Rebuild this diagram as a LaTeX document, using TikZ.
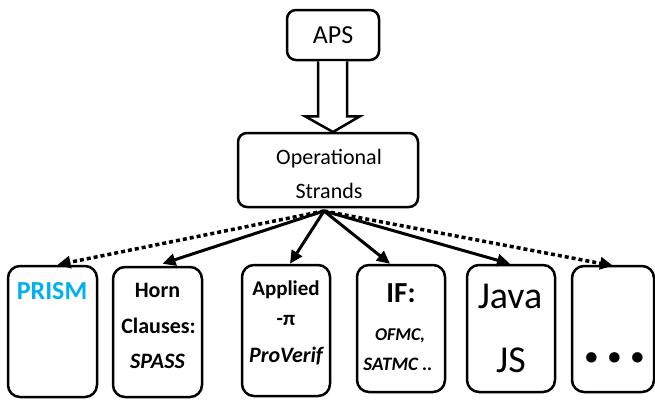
\documentclass[tikz,border=0pt]{standalone}
\usepackage{fontspec}
\setmainfont{Carlito}
\usetikzlibrary{arrows.meta,calc}
\definecolor{prismblue}{HTML}{00B0F0}
\tikzset{
  rbox/.style={draw=black, line width=2.5pt, rounded corners=12pt, inner sep=0pt},
  topbox/.style={draw=black, line width=2.5pt, rounded corners=9pt, inner sep=0pt},
  txt/.style={inner sep=0pt, anchor=base},
  solidarrow/.style={line width=3pt, -{Triangle[length=13pt,width=12pt]}},
  dotarrow/.style={line width=3.5pt, dash pattern=on 4pt off 3pt, -{Triangle[length=13pt,width=12pt]}},
  hollow/.style={draw=black, line width=2.5pt, fill=white, line join=miter}
}
\newcommand{\fs}[1]{\fontsize{#1}{#1}\selectfont}
\begin{document}
\begin{tikzpicture}[x=1pt,y=-1pt]
\useasboundingbox (0,0) rectangle (655,399);
% top boxes
\node[topbox, minimum width=92pt, minimum height=50pt] (aps) at (333,35) {};
\node[txt] (apst) at (333,43) {\fs{26}APS};
\node[topbox, minimum width=180pt, minimum height=74pt] (op) at (328,170) {};
\node[txt] (opt1) at (329,164) {\fs{22}Operational};
\node[txt] (opt2) at (329,198) {\fs{22}Strands};
% hollow arrow
\coordinate (s1) at ($(aps.south)+(-15,0)$);
\coordinate (s2) at ($(aps.south)+(14,0)$);
\coordinate (tip) at (333,132);
\draw[hollow] (s1) -- ($(s1)+(0,55)$) -- ($(s1)+(-13,55)$) -- (tip) -- ($(s2)+(13,55)$) -- ($(s2)+(0,55)$) -- (s2);
% bottom boxes
\node[rbox, minimum width=89pt, minimum height=131pt] (prism) at (52.5,331.5) {};
\node[rbox, minimum width=89pt, minimum height=130pt] (horn) at (157.5,332) {};
\node[rbox, minimum width=88pt, minimum height=131pt] (appl) at (286,330.5) {};
\node[rbox, minimum width=88pt, minimum height=127pt] (if) at (401,328.5) {};
\node[rbox, minimum width=88pt, minimum height=127pt] (java) at (511,328.5) {};
\node[rbox, minimum width=82pt, minimum height=126pt] (dots) at (613,329) {};
% texts
\node[txt, text=prismblue] (prismt) at (52,299) {\fs{26}\bfseries PRISM};
\node[txt] (horn1) at (157.5,297) {\fs{22}\bfseries Horn};
\node[txt] (horn2) at (158.5,333) {\fs{22}\bfseries Clauses:};
\node[txt] (horn3) at (157.5,368) {\fs{22}\bfseries\itshape SPASS};
\node[txt] (appl1) at (286,295) {\fs{21}\bfseries Applied};
\node[txt] (appl2) at (286,325) {\fs{21}\bfseries -π};
\node[txt] (appl3) at (286,362) {\fs{22}\bfseries\itshape ProVerif};
\node[txt] (if1) at (401,302) {\fs{29}\bfseries IF:};
\node[txt] (if2) at (400,340) {\fs{18}\bfseries\itshape OFMC,};
\node[txt] (if3) at (398,370) {\fs{19}\bfseries\itshape SATMC ..};
\node[txt] (java1) at (510,308) {\fs{38}Java};
\node[txt] (java2) at (511,372) {\fs{38}JS};
\node[txt] (dotst) at (615,362) {\fs{70}\bfseries .\hspace{4pt}.\hspace{4pt}.};
% connectors
\coordinate (hub) at (324,211);
\draw[dotarrow] (hub) -- ([xshift=5pt]prism.north);
\draw[solidarrow] (hub) -- ([xshift=5pt,yshift=2pt]horn.north);
\draw[solidarrow] (hub) -- ([xshift=4pt]appl.north);
\draw[solidarrow] (hub) -- ([xshift=-11pt]if.north);
\draw[solidarrow] (hub) -- ([xshift=-1pt]java.north);
\draw[dotarrow] (hub) -- ([xshift=0pt,yshift=-1pt]dots.north);
\end{tikzpicture}
\end{document}
